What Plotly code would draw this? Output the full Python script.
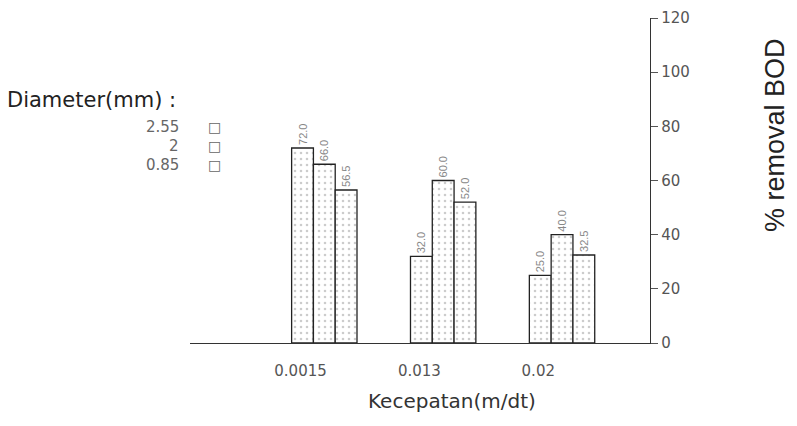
import plotly.graph_objects as go

# ---- data ----
categories = ["", "0.0015", "0.013", "0.02"]
cat_pos = [0, 1, 2, 3]
series_names = ["0.85", "2", "2.55"]
vals_085 = [None, 72, 32, 25]
vals_2 = [None, 66, 60, 40]
vals_255 = [None, 56.5, 52, 32.5]
y_ticks = [0, 20, 40, 60, 80, 100, 120]
legend_order = ["2.55", "2", "0.85"]

FONT = "Liberation Sans, Arial, sans-serif"
WIDE = "DejaVu Sans, Verdana, sans-serif"
OFF = 8  # page body margin of the html output
L, R, T, B = 182, 155, 10, 91
W, H = 797, 426
PW, PH = W - L - R, H - T - B


def px_x(sx):
    return (sx - OFF - L) / PW


def px_y(sy):
    return (H - B - (sy - OFF)) / PH


fig = go.Figure()
for name, vals in zip(series_names, [vals_085, vals_2, vals_255]):
    fig.add_trace(go.Bar(
        x=cat_pos, y=vals, name=name,
        marker=dict(color="white",
                    line=dict(color="#222", width=1.3),
                    pattern=dict(shape=".", fgcolor="#9a9a9a", bgcolor="white",
                                 size=6, solidity=0.15)),
        text=[("" if v is None else f"{v:.1f}") for v in vals],
        textposition="outside", textangle=-90,
        textfont=dict(size=11, color="#888", family=FONT),
        cliponaxis=False, showlegend=False,
    ))

fig.update_layout(
    width=W, height=H,
    margin=dict(l=L, r=R, t=T, b=B, autoexpand=False),
    paper_bgcolor="white", plot_bgcolor="white",
    barmode="group", bargap=0.45, bargroupgap=0,
    font=dict(family=FONT, color="#333"),
    xaxis=dict(
        automargin=False,
        range=[-0.13, 3.74], showgrid=False, zeroline=False,
        showline=True, linecolor="#333", linewidth=1.3,
        tickvals=[p - 0.2 for p in cat_pos[1:]], ticktext=categories[1:],
        ticks="", ticklabelstandoff=14,
        tickfont=dict(size=15, color="#555", family=WIDE),
    ),
    yaxis=dict(
        automargin=False,
        side="right", range=[0, 120], tickvals=y_ticks,
        showgrid=False, zeroline=False, showline=True, linecolor="#333", linewidth=1.3,
        ticks="outside", ticklen=7, tickcolor="#555",
        tickfont=dict(size=15, color="#555", family=WIDE),
    ),
)

# axis titles
fig.add_annotation(xref="paper", yref="paper", x=px_x(452), y=px_y(401),
                   xanchor="center", yanchor="middle",
                   text="Kecepatan(m/dt)", showarrow=False,
                   font=dict(size=20, color="#333", family=WIDE))
fig.add_annotation(xref="paper", yref="paper", x=px_x(775), y=px_y(135),
                   xanchor="center", yanchor="middle",
                   text="% removal BOD", textangle=-90, showarrow=False,
                   font=dict(size=27, color="#222", family=FONT))

# legend drawn as text (title + entries with square markers on the right)
fig.add_annotation(xref="paper", yref="paper", x=px_x(5), y=px_y(100),
                   xanchor="left", yanchor="middle",
                   text="Diameter(mm) :", showarrow=False,
                   font=dict(size=21, color="#222", family=WIDE))
for i, nm in enumerate(legend_order):
    yy = px_y(127 + i * 19)
    fig.add_annotation(xref="paper", yref="paper", x=px_x(181), y=yy,
                       xanchor="right", yanchor="middle", text=nm, showarrow=False,
                       font=dict(size=15, color="#666", family=WIDE))
    fig.add_annotation(xref="paper", yref="paper", x=px_x(214), y=yy,
                       xanchor="center", yanchor="middle",
                       text="□", showarrow=False,
                       font=dict(size=14, color="#666", family=WIDE))

fig.write_html("out.html")
